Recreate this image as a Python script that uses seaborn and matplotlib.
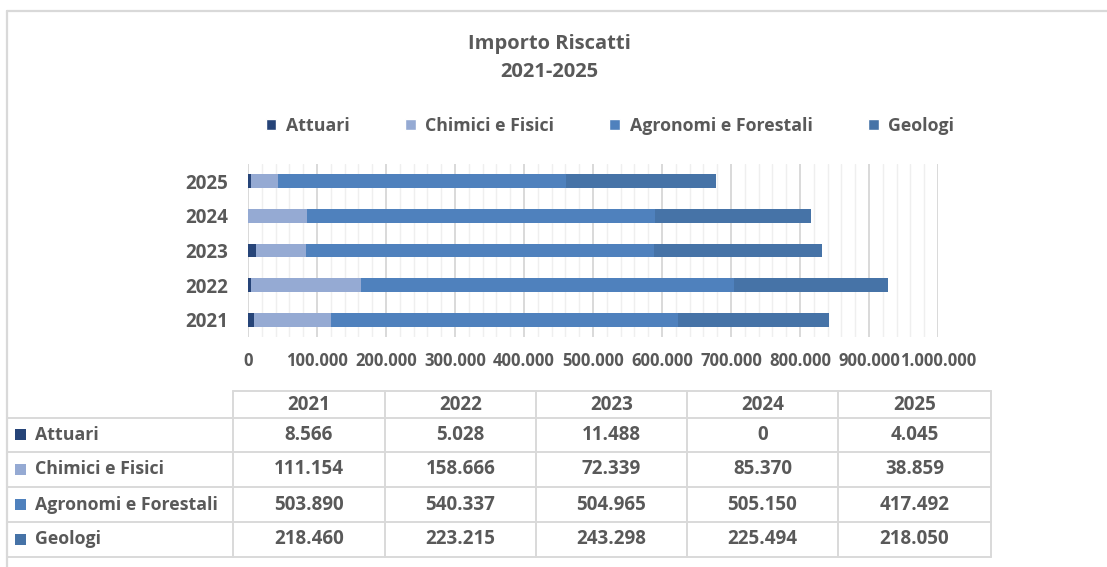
import numpy as np
import pandas as pd
import matplotlib.pyplot as plt
import seaborn as sns
from matplotlib.patches import Patch, Rectangle
from matplotlib.ticker import FuncFormatter, MultipleLocator

# dati
anni = ['2021', '2022', '2023', '2024', '2025']
categorie = ['Attuari', 'Chimici e Fisici', 'Agronomi e Forestali', 'Geologi']
attuari = [8566, 5028, 11488, 0, 4045]
chimici = [111154, 158666, 72339, 85370, 38859]
agronomi = [503890, 540337, 504965, 505150, 417492]
geologi = [218460, 223215, 243298, 225494, 218050]
colori = ['#264478', '#95aad3', '#4f81bd', '#4673a7']

testo = '#595959'
griglia = '#d9d9d9'
W, H = 1107, 567


def fmt_it(v):
    return f'{v:,.0f}'.replace(',', '.')


sns.set_theme(style='white')
plt.rcParams['font.family'] = ['Open Sans', 'DejaVu Sans']
plt.rcParams['font.weight'] = 'bold'

df = pd.DataFrame({'Anno': anni, 'Attuari': attuari, 'Chimici e Fisici': chimici,
                   'Agronomi e Forestali': agronomi, 'Geologi': geologi})
# somme cumulative per impilare le barre
cum = df[categorie].cumsum(axis=1)
cum['Anno'] = anni
ordine = anni[::-1]

fig = plt.figure(figsize=(W / 100, H / 100), dpi=100)
ax = fig.add_axes([248 / W, 230 / H, 690 / W, 173 / H])

for cat, col in reversed(list(zip(categorie, colori))):
    sns.barplot(data=cum, x=cat, y='Anno', order=ordine, orient='y', color=col,
                width=0.4, saturation=1, linewidth=0, ax=ax)

ax.set_xlim(0, 1_000_000)
ax.set_axisbelow(True)
ax.xaxis.set_major_locator(MultipleLocator(100_000))
ax.xaxis.set_minor_locator(MultipleLocator(20_000))
ax.xaxis.set_major_formatter(FuncFormatter(lambda v, p: fmt_it(v)))
ax.grid(axis='x', which='major', color=griglia, lw=1.4)
ax.grid(axis='x', which='minor', color='#efefef', lw=1.0)
ax.grid(axis='y', visible=False)
ax.tick_params(axis='x', which='both', length=0, pad=11, labelsize=12, labelcolor=testo)
ax.tick_params(axis='y', length=0, pad=14, labelsize=13.5, labelcolor=testo)
for lab in ax.get_xticklabels() + ax.get_yticklabels():
    lab.set_fontweight('bold')
ax.set_xlabel('')
ax.set_ylabel('')
sns.despine(ax=ax, left=True, bottom=True)

# titolo
fig.text(549 / W, 1 - 44 / H, 'Importo Riscatti', ha='center', va='center',
         fontsize=14.5, fontweight='bold', color=testo)
fig.text(549 / W, 1 - 72 / H, '2021-2025', ha='center', va='center',
         fontsize=14.5, fontweight='bold', color=testo)

# legenda
maniglie = [Patch(facecolor=c, label=l) for c, l in zip(colori, categorie)]
leg = fig.legend(handles=maniglie, ncol=4, loc='center', bbox_to_anchor=(610 / W, 1 - 126 / H),
                 frameon=False, handlelength=0.6, handleheight=0.6, handletextpad=0.55,
                 columnspacing=3.1, fontsize=12.8, labelcolor=testo)
for tx in leg.get_texts():
    tx.set_fontweight('bold')

# tabella dati e cornice
t = fig.add_axes([0, 0, 1, 1])
t.set_xlim(0, W)
t.set_ylim(H, 0)
t.axis('off')
t.patch.set_alpha(0)

t.plot([7, W], [11, 11], color=griglia, lw=1.6)
t.plot([7, 7], [11, H], color=griglia, lw=1.6)

col_x = [233, 385, 536, 687, 838, 991]
row_y = [391, 418, 452, 487, 522, 557]
t.plot([col_x[0], col_x[-1]], [row_y[0]] * 2, color=griglia, lw=1.4)
for y in row_y[1:]:
    t.plot([7, col_x[-1]], [y, y], color=griglia, lw=1.4)
for x in col_x:
    t.plot([x, x], [row_y[0], row_y[-1]], color=griglia, lw=1.4)

for j, anno in enumerate(anni):
    t.text((col_x[j] + col_x[j + 1]) / 2, (row_y[0] + row_y[1]) / 2, anno,
           ha='center', va='center', fontsize=13.5, fontweight='bold', color=testo)

valori = [attuari, chimici, agronomi, geologi]
for i, (cat, col, vals) in enumerate(zip(categorie, colori, valori)):
    yc = (row_y[i + 1] + row_y[i + 2]) / 2
    t.add_patch(Rectangle((15, yc - 6), 11, 11, facecolor=col, edgecolor='none'))
    t.text(35, yc, cat, ha='left', va='center', fontsize=12.8, fontweight='bold', color=testo)
    for j, v in enumerate(vals):
        t.text((col_x[j] + col_x[j + 1]) / 2, yc, fmt_it(v),
               ha='center', va='center', fontsize=13.5, fontweight='bold', color=testo)

fig.savefig('out.png', dpi=100)
